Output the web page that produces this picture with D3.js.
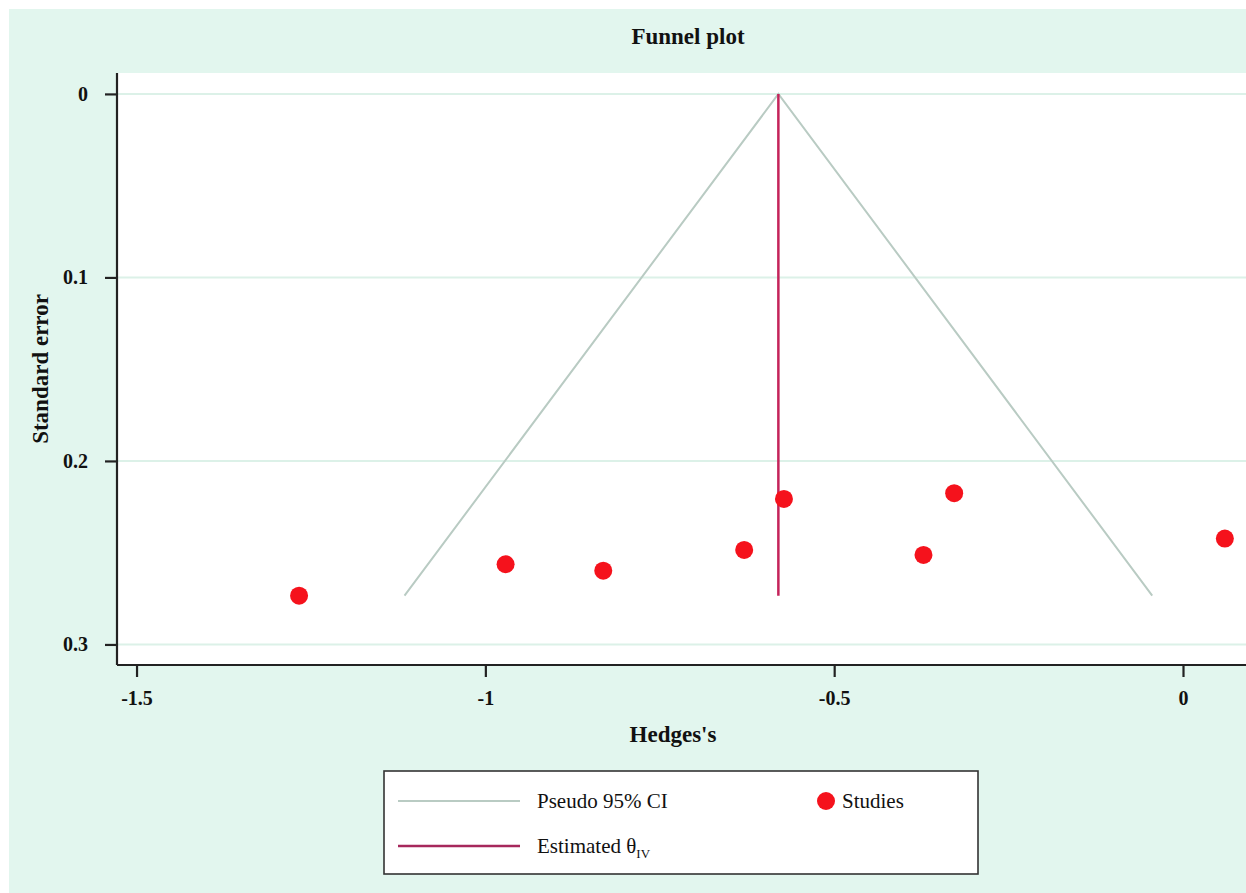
<!DOCTYPE html>
<html>
<head>
<meta charset="utf-8">
<script src="https://cdn.jsdelivr.net/npm/d3@7"></script>
<style>
  html, body { margin: 0; padding: 0; background: #ffffff; }
  svg { display: block; }
  text { font-family: "Liberation Serif", "DejaVu Serif", serif; fill: #111; }
</style>
</head>
<body>
<svg id="chart" width="1246" height="893"></svg>
<script>
// Study effect sizes (Hedges's g) and their standard errors
const studyLabels = ["S1", "S2", "S3", "S4", "S5", "S6", "S7", "S8"];
const hedgesG   = [-1.267, -0.971, -0.831, -0.629, -0.572, -0.372, -0.328, 0.060];
const stdErrors = [0.2734, 0.2563, 0.2598, 0.2485, 0.2207, 0.2512, 0.2176, 0.2423];

// Pooled inverse-variance estimate
const thetaIV = -0.580;

const xTicks = [-1.5, -1, -0.5, 0];
const yTicks = [0, 0.1, 0.2, 0.3];

const W = 1246, H = 893;
const plot = { left: 117, right: 1246, top: 73, bottom: 665 };

const svg = d3.select("#chart");

// background panels
svg.append("rect").attr("x", 9).attr("y", 9).attr("width", W - 9).attr("height", H - 9)
  .attr("fill", "#e2f6ee");
svg.append("rect").attr("x", plot.left).attr("y", plot.top)
  .attr("width", plot.right - plot.left).attr("height", plot.bottom - plot.top)
  .attr("fill", "#ffffff");

const x = d3.scaleLinear().domain([-1.528, 0.0903]).range([plot.left, plot.right]);
const y = d3.scaleLinear().domain([-0.0114, 0.3112]).range([plot.top, plot.bottom]);

// horizontal grid lines
svg.append("g").selectAll("line").data(yTicks).join("line")
  .attr("x1", plot.left).attr("x2", plot.right)
  .attr("y1", d => y(d)).attr("y2", d => y(d))
  .attr("stroke", "#dcf1e8").attr("stroke-width", 2);

// pseudo 95% confidence funnel
const seMax = d3.max(stdErrors);
const funnel = [
  [thetaIV - 1.96 * seMax, seMax],
  [thetaIV, 0],
  [thetaIV + 1.96 * seMax, seMax]
];
svg.append("path")
  .attr("d", d3.line().x(d => x(d[0])).y(d => y(d[1]))(funnel))
  .attr("fill", "none").attr("stroke", "#b9cbc3").attr("stroke-width", 2);

// estimated effect line
svg.append("line")
  .attr("x1", x(thetaIV)).attr("x2", x(thetaIV))
  .attr("y1", y(0)).attr("y2", y(seMax))
  .attr("stroke", "#c4235a").attr("stroke-width", 2.5);

// studies
svg.append("g").selectAll("circle").data(studyLabels).join("circle")
  .attr("cx", (d, i) => x(hedgesG[i]))
  .attr("cy", (d, i) => y(stdErrors[i]))
  .attr("r", 9)
  .attr("fill", "#f5121c");

// axes
const yAxis = svg.append("g").attr("transform", `translate(${plot.left},0)`)
  .call(d3.axisLeft(y).tickValues(yTicks).tickSize(12).tickPadding(17)
    .tickFormat(d => String(d)));
const xAxis = svg.append("g").attr("transform", `translate(0,${plot.bottom})`)
  .call(d3.axisBottom(x).tickValues(xTicks).tickSize(12).tickPadding(14)
    .tickFormat(d => String(d)));

[yAxis, xAxis].forEach(g => {
  g.select(".domain").attr("stroke", "#222").attr("stroke-width", 2.2);
  g.selectAll(".tick line").attr("stroke", "#222").attr("stroke-width", 2.2);
  g.selectAll(".tick text").attr("font-size", 20).attr("font-weight", "bold")
    .attr("fill", "#222").style("font-family", "'Liberation Serif', serif");
});
yAxis.select(".domain").attr("d", `M0,${plot.top}V${plot.bottom}`);
xAxis.select(".domain").attr("d", `M${plot.left},0H${plot.right}`);

// titles
svg.append("text").attr("x", 688).attr("y", 44).attr("text-anchor", "middle")
  .attr("font-size", 23).attr("font-weight", "bold").text("Funnel plot");
svg.append("text").attr("x", 673).attr("y", 742).attr("text-anchor", "middle")
  .attr("font-size", 23).attr("font-weight", "bold").text("Hedges's");
svg.append("text").attr("transform", "translate(48,369) rotate(-90)")
  .attr("text-anchor", "middle")
  .attr("font-size", 23).attr("font-weight", "bold").text("Standard error");

// legend
const lg = svg.append("g");
lg.append("rect").attr("x", 384).attr("y", 771).attr("width", 594).attr("height", 103)
  .attr("fill", "#ffffff").attr("stroke", "#333").attr("stroke-width", 1.6);
lg.append("line").attr("x1", 398).attr("x2", 520).attr("y1", 801).attr("y2", 801)
  .attr("stroke", "#b9cbc3").attr("stroke-width", 2);
lg.append("text").attr("x", 537).attr("y", 808).attr("font-size", 21).text("Pseudo 95% CI");
lg.append("circle").attr("cx", 826).attr("cy", 801).attr("r", 9).attr("fill", "#f5121c");
lg.append("text").attr("x", 842).attr("y", 808).attr("font-size", 21).text("Studies");
lg.append("line").attr("x1", 398).attr("x2", 520).attr("y1", 846).attr("y2", 846)
  .attr("stroke", "#a6285c").attr("stroke-width", 2.5);
const est = lg.append("text").attr("x", 537).attr("y", 853).attr("font-size", 21);
est.append("tspan").text("Estimated θ");
est.append("tspan").attr("dy", 5).attr("font-size", 13).text("IV");
</script>
</body>
</html>
